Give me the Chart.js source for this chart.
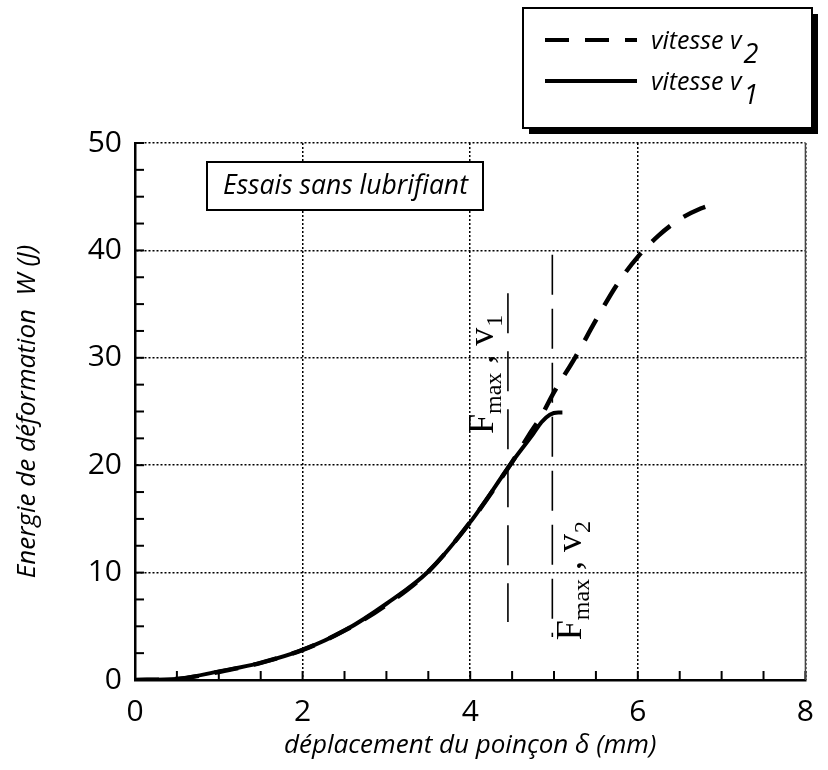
<!DOCTYPE html>
<html><head><meta charset="utf-8">
<script src="https://cdn.jsdelivr.net/npm/chart.js@4.4.0/dist/chart.umd.min.js"></script>
<style>html,body{margin:0;padding:0;background:#fff}#wrap{width:828px;height:770px;position:relative}</style>
</head><body><div id="wrap"><canvas id="c" width="828" height="770"></canvas></div>
<script>
// ---- data ----
const xTickValues = [0, 2, 4, 6, 8];
const yTickValues = [0, 10, 20, 30, 40, 50];
const v1X = [0, 0.5, 1.0, 1.5, 2.0, 2.5, 3.0, 3.5, 4.0, 4.5, 4.75, 4.85, 4.95, 5.05, 5.1];
const v1Y = [0, 0.1, 0.8, 1.6, 2.8, 4.6, 7.1, 10.1, 14.7, 20.3, 22.9, 24.0, 24.7, 24.9, 24.9];
const v2X = [0, 0.5, 1.0, 1.5, 2.0, 2.5, 3.0, 3.5, 4.0, 4.5, 4.7, 4.85, 5.0, 5.25, 5.5, 5.75, 6.0, 6.25, 6.5, 6.75, 6.9];
const v2Y = [0, 0.1, 0.75, 1.6, 2.8, 4.6, 7.0, 10.1, 14.7, 20.3, 22.8, 24.6, 26.8, 30.0, 33.5, 36.8, 39.4, 41.4, 42.9, 43.9, 44.3];
const fmaxV1X = [4.45, 4.45];
const fmaxV1Y = [36, 5.4];
const fmaxV2X = [4.98, 4.98];
const fmaxV2Y = [39.6, 4.0];
const legendText = ['vitesse v', 'vitesse v'];
const legendSub = ['2', '1'];
const fmaxMain = 'F';
const fmaxSub = 'max';
const fmaxSep = ' , v';
const fmaxIdx = ['1', '2'];
const boxText = 'Essais sans lubrifiant';
const xTitle = 'déplacement du poinçon δ (mm)';
const yTitle = 'Energie de déformation  W (J)';

const pts = (xs, ys) => xs.map((x, i) => ({x, y: ys[i]}));
const SANS = '"Open Sans", "DejaVu Sans", sans-serif';
const SERIF = '"Liberation Serif", "DejaVu Serif", serif';

const decor = {
  id: 'decor',
  afterDraw(chart) {
    const ctx = chart.ctx;
    const xs = chart.scales.x, ys = chart.scales.y;
    const ca = chart.chartArea;
    ctx.save();
    // inward tick marks
    ctx.strokeStyle = '#000'; ctx.lineWidth = 2; ctx.setLineDash([]);
    for (let v = 0; v <= 8.001; v += 0.5) {
      const px = xs.getPixelForValue(v);
      ctx.beginPath(); ctx.moveTo(px, ca.bottom); ctx.lineTo(px, ca.bottom - 9); ctx.stroke();
    }
    for (let v = 0; v <= 50.001; v += 2.5) {
      const py = ys.getPixelForValue(v);
      ctx.beginPath(); ctx.moveTo(ca.left, py); ctx.lineTo(ca.left + 9, py); ctx.stroke();
    }
    // right frame
    ctx.lineWidth = 1.5; ctx.strokeStyle = '#444';
    ctx.beginPath(); ctx.moveTo(ca.right, ca.top); ctx.lineTo(ca.right, ca.bottom); ctx.stroke();

    // legend box with shadow
    const lx = 523, ly = 8, lw = 289, lh = 120;
    ctx.fillStyle = '#000'; ctx.fillRect(lx + 6, ly + 6, lw, lh);
    ctx.fillStyle = '#fff'; ctx.fillRect(lx, ly, lw, lh);
    ctx.strokeStyle = '#000'; ctx.lineWidth = 2; ctx.strokeRect(lx, ly, lw, lh);
    const order = [1, 0];
    order.forEach((di, row) => {
      const ds = chart.data.datasets[di];
      const yy = row === 0 ? 40 : 81;
      ctx.lineWidth = 4; ctx.strokeStyle = ds.borderColor;
      ctx.setLineDash(ds.borderDash || []);
      ctx.beginPath(); ctx.moveTo(545, yy); ctx.lineTo(637, yy); ctx.stroke();
      ctx.setLineDash([]);
      ctx.fillStyle = '#000';
      ctx.textBaseline = 'alphabetic'; ctx.textAlign = 'left';
      ctx.font = 'italic 25px ' + SANS;
      ctx.fillText(legendText[row], 651, yy + 9);
      const w = ctx.measureText(legendText[row]).width;
      ctx.font = 'italic 27px ' + SANS;
      ctx.fillText(legendSub[row], 651 + w + 2, yy + 23);
    });

    // Essais box
    ctx.lineWidth = 2; ctx.strokeStyle = '#000';
    ctx.fillStyle = '#fff';
    ctx.fillRect(207, 162, 276, 48);
    ctx.strokeRect(207, 162, 276, 48);
    ctx.fillStyle = '#000';
    ctx.font = 'italic 26.5px ' + SANS;
    ctx.textBaseline = 'middle';
    ctx.fillText(boxText, 223, 186);

    // Fmax labels (rotated)
    const drawF = (px, py, idx) => {
      ctx.save();
      ctx.translate(px, py);
      ctx.rotate(-Math.PI / 2);
      ctx.textBaseline = 'alphabetic'; ctx.textAlign = 'left';
      let x = 0;
      ctx.font = '36px ' + SERIF; ctx.fillText(fmaxMain, x, 0); x += ctx.measureText(fmaxMain).width;
      ctx.font = '24px ' + SERIF; ctx.fillText(fmaxSub, x, 8); x += ctx.measureText(fmaxSub).width;
      ctx.font = '36px ' + SERIF; ctx.fillText(fmaxSep, x, 0); x += ctx.measureText(fmaxSep).width;
      ctx.font = '24px ' + SERIF; ctx.fillText(idx, x + 1, 9);
      ctx.restore();
    };
    drawF(xs.getPixelForValue(4.27), ys.getPixelForValue(22.9), fmaxIdx[0]);
    drawF(xs.getPixelForValue(5.32), ys.getPixelForValue(3.7), fmaxIdx[1]);
    ctx.restore();
  }
};

new Chart(document.getElementById('c'), {
  type: 'scatter',
  data: {
    datasets: [
      { label: legendText[1] + legendSub[1], data: pts(v1X, v1Y), showLine: true, borderColor: '#000', borderWidth: 4, pointRadius: 0, cubicInterpolationMode: 'monotone', fill: false },
      { label: legendText[0] + legendSub[0], data: pts(v2X, v2Y), showLine: true, borderColor: '#000', borderWidth: 4.5, borderDash: [24, 16], pointRadius: 0, cubicInterpolationMode: 'monotone', fill: false },
      { label: 'Fmax v1', data: pts(fmaxV1X, fmaxV1Y), showLine: true, borderColor: '#000', borderWidth: 1.6, borderDash: [40, 18], pointRadius: 0 },
      { label: 'Fmax v2', data: pts(fmaxV2X, fmaxV2Y), showLine: true, borderColor: '#000', borderWidth: 1.6, borderDash: [40, 14], pointRadius: 0 }
    ]
  },
  options: {
    responsive: false,
    animation: false,
    devicePixelRatio: 1,
    layout: { padding: { top: 143, right: 13, left: 0, bottom: 0 } },
    plugins: { legend: { display: false }, tooltip: { enabled: false } },
    scales: {
      x: {
        type: 'linear', min: 0, max: 8,
        afterBuildTicks: s => { s.ticks = xTickValues.map(v => ({value: v})); },
        afterFit: s => { s.height = 90; },
        grid: { color: '#000', lineWidth: 1.5, drawTicks: false },
        border: { display: true, color: '#000', width: 2.5, dash: [2, 2] },
        ticks: { color: '#000', padding: 14, font: { family: SANS, size: 30 } },
        title: { display: true, text: xTitle, color: '#000', font: { family: SANS, size: 26, style: 'italic' }, padding: { top: 0, bottom: 9 } }
      },
      y: {
        type: 'linear', min: 0, max: 50,
        afterBuildTicks: s => { s.ticks = yTickValues.map(v => ({value: v})); },
        afterFit: s => { s.width = 135; },
        grid: { color: '#000', lineWidth: 1.5, drawTicks: false },
        border: { display: true, color: '#000', width: 2.5, dash: [2, 2] },
        ticks: { color: '#000', padding: 13, font: { family: SANS, size: 30 } },
        title: { display: true, text: yTitle, color: '#000', font: { family: SANS, size: 26, style: 'italic' }, padding: { top: 12, bottom: 0 } }
      }
    }
  },
  plugins: [decor]
});
</script>
</body></html>
